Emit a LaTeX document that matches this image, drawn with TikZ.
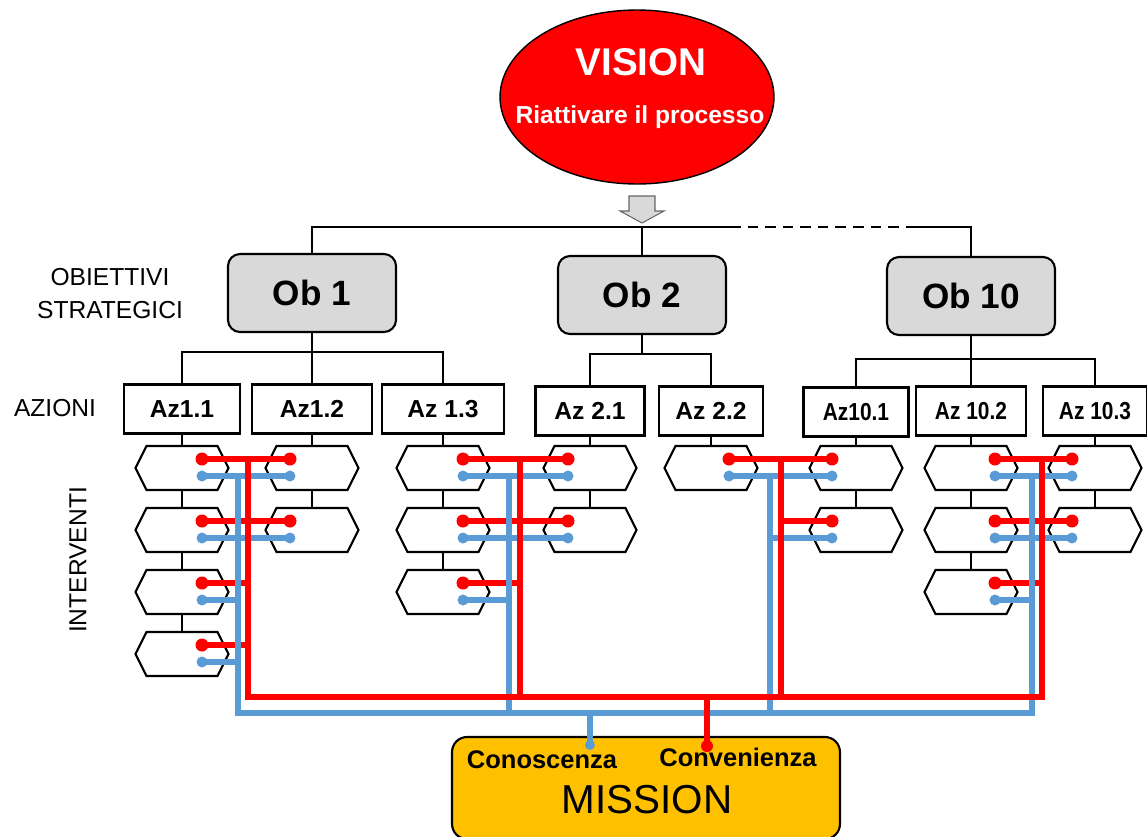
\documentclass[tikz,border=0pt]{standalone}
\usepackage{fontspec}
\setmainfont{Liberation Sans}
\usetikzlibrary{shapes.geometric,shapes.symbols}
\definecolor{visred}{HTML}{FF0000}
\definecolor{conblue}{HTML}{5B9BD5}
\definecolor{obgray}{HTML}{D9D9D9}
\definecolor{misgold}{HTML}{FFC000}
\newcommand{\fsz}[2]{\fontsize{#1}{#2}\selectfont}
\newcommand{\azcond}[1]{\scalebox{.85}[1]{#1}}

\begin{document}
\begin{tikzpicture}[x=0.02cm,y=-0.02cm,line width=1.2pt,
  ob/.style={draw,fill=obgray,rounded corners=0.24cm,minimum width=3.36cm,
    minimum height=1.56cm,font=\fsz{20}{24}\bfseries},
  az/.style={draw,minimum height=0.98cm,inner sep=0pt,font=\fsz{14}{17}\bfseries},
  hexa/.style={draw,signal,signal to=east and west,signal pointer angle=127,
    minimum width=1.86cm,minimum height=0.88cm,inner sep=0pt},
  side/.style={font=\fsz{14}{18.8}},
  rw/.style={visred,line width=3pt},
  bw/.style={conblue,line width=2.9pt}]
\useasboundingbox (0,0) rectangle (1147,836);

\node[ellipse,draw,line width=0.8pt,fill=visred,minimum width=5.48cm,minimum height=3.48cm] (vision) at (637,97) {};
\node[anchor=base,text=white,font=\fsz{22}{26}\bfseries] (vistit) at (641,75) {VISION};
\node[anchor=base,text=white,font=\fsz{14}{17}\bfseries] (vissub) at (640,123) {Riattivare il processo};
\filldraw[fill=obgray,draw=black!60,line width=0.6pt] (629,196) -- (655,196) -- (655,211) -- (664,211)
  -- (642,223) -- (620,211) -- (629,211) -- cycle;

\node[side,align=center] (lobj) at (110,294) {OBIETTIVI\\STRATEGICI};
\node[side] (lazi) at (55,408) {AZIONI};
\node[side,rotate=90] (lint) at (78,560) {INTERVENTI};

\node[ob] (ob1) at (312,293) {Ob 1};
\node[ob] (ob2) at (642,295) {Ob 2};
\node[ob] (ob10) at (971,296) {Ob 10};

\coordinate (dsta) at (730,227);
\coordinate (dend) at (916,227);
\draw (ob1.north) |- (dsta);
\draw (ob2.north) -- (ob2.north |- dsta);
\draw[dash pattern=on 6pt off 4pt] (dsta) -- (dend);
\draw (dend) -| (ob10.north);

\node[az,minimum width=2.32cm] (az11) at (182,409) {Az1.1};
\node[az,minimum width=2.40cm] (az12) at (312,409) {Az1.2};
\node[az,minimum width=2.44cm] (az13) at (443,409) {Az 1.3};
\node[az,minimum width=2.18cm] (az21) at (590,411) {Az 2.1};
\node[az,minimum width=2.08cm] (az22) at (711,411) {Az 2.2};
\node[az,minimum width=2.10cm] (az101) at (856,412) {\azcond{Az10.1}};
\node[az,minimum width=2.20cm] (az102) at (971,411) {\azcond{Az 10.2}};
\node[az,minimum width=2.08cm] (az103) at (1095,411) {\azcond{Az 10.3}};

\coordinate (bus1) at (312,352);
\coordinate (bus2) at (642,354);
\coordinate (bus10) at (971,359);
\draw (ob1) -- (az12);
\draw (az11) |- (bus1) -| (az13);
\draw (ob2) -- (bus2);
\draw (az21) |- (bus2) -| (az22);
\draw (ob10) -- (az102);
\draw (az101) |- (bus10) -| (az103);

% interventi
\foreach \c/\x/\k/\d in {11/182/4/20,12/312/2/-22,13/443/3/20,21/590/2/-22,
    22/711/1/18,101/856/2/-24,102/971/3/24,103/1095/2/-23}{
  \foreach \r in {1,...,\k}{
    \node[hexa] (h\c-\r) at (\x,406+62*\r) {};
    \coordinate (r\c-\r) at ([shift={(\d,-9)}]h\c-\r.center);
    \coordinate (b\c-\r) at ([shift={(\d,8)}]h\c-\r.center);
  }
  \draw (az\c) -- (h\c-1);
  \ifnum\k>1
    \foreach \r [evaluate=\r as \p using int(\r-1)] in {2,...,\k}
      \draw (h\c-\p) -- (h\c-\r);
  \fi
}

\coordinate (redA) at (248,697);
\coordinate (redB) at (520,697);
\coordinate (redC) at (781,697);
\coordinate (redD) at (1042,697);
\coordinate (blueA) at (238,713);
\coordinate (blueB) at (509,713);
\coordinate (blueC) at (770,713);
\coordinate (blueD) at (1032,713);

\foreach \p/\q in {11-1/12-1,11-2/12-2,13-1/21-1,13-2/21-2,22-1/101-1,102-1/103-1,102-2/103-2}{
  \draw[rw] (r\p) -- (r\q);
  \draw[bw] (b\p) -- (b\q);
}
\foreach \p/\g in {11-3/A,11-4/A,13-3/B,101-2/C,102-3/D}{
  \draw[rw] (r\p) -- (r\p -| red\g);
  \draw[bw] (b\p) -- (b\p -| blue\g);
}
\draw[bw] (blueA |- b11-1) -- (blueA) -- (blueD) -- (blueD |- b102-1);
\draw[bw] (blueB |- b13-1) -- (blueB);
\draw[bw] (blueC |- b22-1) -- (blueC);
\draw[rw] (redA |- r11-1) -- (redA) -- (redD) -- (redD |- r102-1);
\draw[rw] (redB |- r13-1) -- (redB);
\draw[rw] (redC |- r22-1) -- (redC);

% mission
\node[draw,fill=misgold,rounded corners=0.3cm,minimum width=7.76cm,minimum height=2.04cm] (mission) at (646,788) {};
\node[anchor=base,font=\fsz{14.5}{17}\bfseries] (cons) at (542,768) {Conoscenza};
\node[anchor=base,font=\fsz{14.5}{17}\bfseries] (conv) at (738,766) {Convenienza};
\node[anchor=base,font=\fsz{23}{27}] (misst) at (647,813) {MISSION};
\coordinate (consdot) at (590,745);
\coordinate (convdot) at (707,746);
\draw[bw] (consdot |- blueA) -- (consdot);
\draw[rw] (convdot |- redA) -- (convdot);
\fill[conblue] (consdot) circle (5);
\fill[visred] (convdot) circle (6);

\foreach \c/\k in {11/4,12/2,13/3,21/2,22/1,101/2,102/3,103/2}
  \foreach \r in {1,...,\k}{
    \fill[visred] (r\c-\r) circle (6.5);
    \fill[conblue] (b\c-\r) circle (5.5);
  }
\end{tikzpicture}
\end{document}
